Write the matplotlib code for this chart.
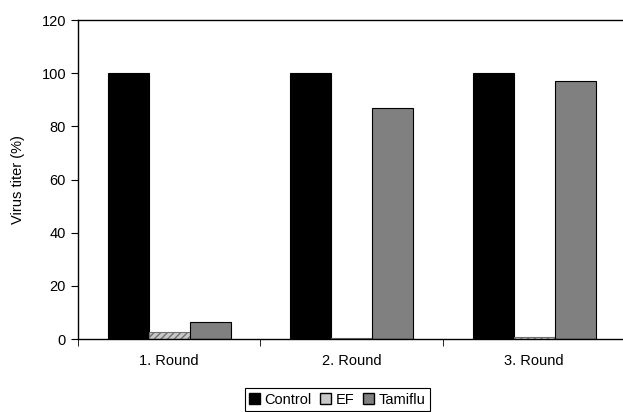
import numpy as np
import matplotlib
matplotlib.use("Agg")
import matplotlib.pyplot as plt
from matplotlib.patches import Patch

plt.rcParams['font.family'] = ['Liberation Sans', 'DejaVu Sans']
plt.rcParams['hatch.color'] = 'white'
plt.rcParams['hatch.linewidth'] = 1.0

# data
rounds = ['1. Round', '2. Round', '3. Round']
control = [100, 100, 100]
ef = [2.5, 0.3, 0.8]
tamiflu = [6.5, 87, 97]

fig = plt.figure(figsize=(6.23, 4.12), dpi=100)
ax = fig.add_axes([0.125, 0.177, 0.879, 0.774])

x = np.arange(len(rounds))
w = 0.225
ax.bar(x - w, control, w, color='black', edgecolor='black', linewidth=0.8)
ax.bar(x, ef, w, color='#c8c8c8', edgecolor='#707070', linewidth=0.8, hatch='/////')
ax.bar(x + w, tamiflu, w, color='#808080', edgecolor='black', linewidth=0.8)

ax.set_xlim(-0.5, 2.5)
ax.set_ylim(0, 120)
ax.set_yticks(range(0, 121, 20))
ax.set_xticks(x)
ax.set_xticklabels(rounds)
ax.set_xticks([-0.5, 0.5, 1.5, 2.5], minor=True)
ax.tick_params(axis='x', which='major', length=0, pad=11, labelsize=10.5)
ax.tick_params(axis='x', which='minor', length=5, direction='out')
ax.tick_params(axis='y', length=5, direction='out', labelsize=10.5)
ax.set_ylabel('Virus titer (%)', fontsize=10.5, labelpad=12)
ax.spines['right'].set_visible(False)
for s in ['left', 'bottom', 'top']:
    ax.spines[s].set_linewidth(1.0)

handles = [Patch(facecolor='black', edgecolor='black'),
           Patch(facecolor='#c8c8c8', edgecolor='black'),
           Patch(facecolor='#808080', edgecolor='black')]
leg = fig.legend(handles, ['Control', 'EF', 'Tamiflu'], loc='lower center',
                 bbox_to_anchor=(0.541, -0.015), ncol=3, fontsize=10.5,
                 handlelength=0.75, handleheight=0.75, handletextpad=0.3,
                 columnspacing=0.6, borderpad=0.3, fancybox=False,
                 framealpha=1)
leg.get_frame().set_edgecolor('black')
leg.get_frame().set_linewidth(0.8)

fig.savefig('out.png', dpi=100)
